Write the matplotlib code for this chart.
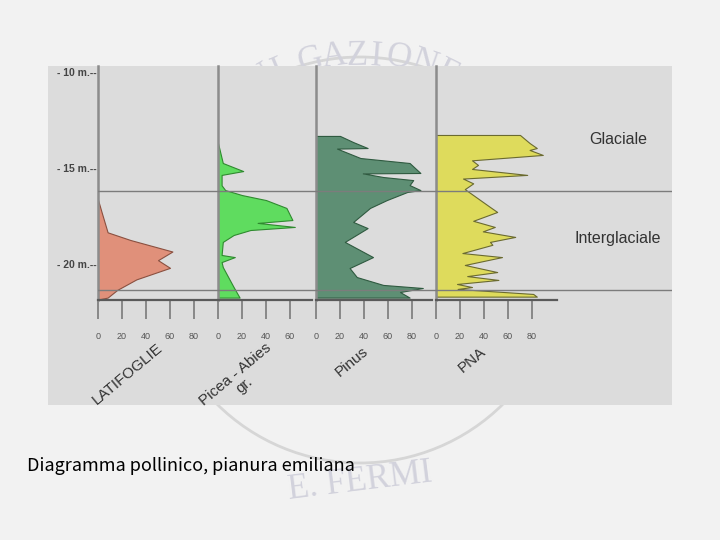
import matplotlib
matplotlib.use("Agg")
import numpy as np
import matplotlib.pyplot as plt
from matplotlib.patches import Rectangle, Circle

plt.rcParams['font.family'] = ['Liberation Sans', 'DejaVu Sans']

# ---- data (depth in m below surface, pollen %) ----
taxa = ["LATIFOGLIE", "Picea - Abies\ngr.", "Pinus", "PNA"]

lat_depth = [16.65, 17.3, 18.35, 18.75, 19.35, 19.8, 20.2, 20.8, 21.35, 21.75, 21.85]
lat_vals = [0, 3, 8, 27, 62, 50, 60, 32, 16, 8, 0]

pic_depth = [13.7, 14.74, 15.16, 15.36, 15.9, 16.15, 16.41, 16.67, 17.08, 17.71, 17.86,
             18.07, 18.23, 18.49, 18.85, 19.53, 19.64, 19.9, 20.16, 21.2, 21.75]
pic_vals = [0, 4, 21, 3, 3, 6, 20, 40, 57, 62, 33, 64, 27, 13, 4, 3, 14, 3, 4, 13, 18]

pin_depth = [13.33, 13.65, 13.96, 13.99, 14.48, 14.74, 15.26, 15.28, 15.47, 15.63, 15.89,
             16.15, 16.25, 16.67, 17.08, 17.29, 17.81, 18.13, 18.85, 19.64, 20.21, 20.68,
             21.09, 21.25, 21.46, 21.75]
pin_vals = [20, 31, 43, 17.5, 37, 78, 87, 39, 56, 81, 78, 87, 76, 59, 45, 41, 31, 43, 24,
            47.5, 28, 34, 56, 89, 70, 78]

pna_depth = [13.28, 13.7, 13.96, 14.06, 14.32, 14.6, 14.84, 15.05, 15.36, 15.55, 15.8, 16.1,
             16.41, 17.03, 17.29, 17.75, 18.07, 18.3, 18.59, 18.85, 19.0, 19.43, 19.64,
             20.05, 20.42, 20.63, 20.83, 21.04, 21.2, 21.3, 21.56, 21.7]
pna_vals = [70, 78, 84, 78, 89, 30, 35, 30, 76, 22.5, 31, 24, 31, 45, 51, 31, 49, 39, 66,
            45, 47, 22, 55, 24, 51, 26, 52, 17.5, 30, 18, 81, 84]

depths = [lat_depth, pic_depth, pin_depth, pna_depth]
values = [lat_vals, pic_vals, pin_vals, pna_vals]
pct_ticks = [[0, 20, 40, 60, 80], [0, 20, 40, 60], [0, 20, 40, 60, 80], [0, 20, 40, 60, 80]]
depth_ticks = [10, 15, 20]

zone_names = ["Glaciale", "Interglaciale"]
zone_bounds = [16.2, 21.35]

fills = ['#e0907a', '#5fdc5f', '#5e8f74', '#dedb5c']
edges = ['#8a5040', '#2f8a2f', '#2f5a40', '#6a6a30']

# ---- layout (pixels) ----
W, H = 720, 540
PX_PER_M = 19.2
PX_PER_PCT = 1.2
TOP, BOT = 66, 300
x_left = [98, 218, 316, 436]
x_right = [218, 316, 436, 557]
spine_end = [218, 312, 432, 557]


def depth_at(py):
    return 10 + (py - 72) / PX_PER_M


def box(x0, y0, x1, y1):
    return [x0 / W, 1 - y1 / H, (x1 - x0) / W, (y1 - y0) / H]


fig = plt.figure(figsize=(7.2, 5.4), dpi=100, facecolor='#f2f2f2')

# background: watermark, grey panel, caption, taxon names
bg = fig.add_axes([0, 0, 1, 1], zorder=-1)
bg.set_xlim(0, W)
bg.set_ylim(H, 0)
bg.axis('off')

wm = '#d2d2dc'
bg.add_patch(Circle((360, 260), 203, fill=False, ec='#d6d6d6', lw=2, zorder=1))
letters = "DIVULGAZIONE"
angles = [-52, -45, -38.5, -30.5, -22.7, -14.6, -7.5, -0.9, 4.6, 11.2, 19.0, 26.2]
for ch, a in zip(letters, angles):
    t = np.radians(a)
    bg.text(360 + 197 * np.sin(t), 262 - 197 * np.cos(t), ch, rotation=-a,
            ha='center', va='baseline', fontsize=25, color=wm,
            family='Liberation Serif', zorder=1)
bg.text(360, 482, "E. FERMI", rotation=7, ha='center', va='center', fontsize=25,
        color=wm, family='Liberation Serif', zorder=1)

bg.add_patch(Rectangle((48, 66), 624, 339, fc='#dcdcdc', ec='none', zorder=3))

bg.text(27, 466, "Diagramma pollinico, pianura emiliana", ha='left', va='center',
        fontsize=13, color='black', family=['Noto Sans CJK JP', 'DejaVu Sans'], zorder=4)

label_pos = [(127, 374), (240, 380), (352, 362), (472, 360)]
for name, (lx, ly) in zip(taxa, label_pos):
    bg.text(lx, ly, name, rotation=40, rotation_mode='anchor', ha='center', va='center',
            multialignment='center', fontsize=11, color='#333333', zorder=4, linespacing=1.0)

# ---- pollen curves ----
for i in range(4):
    ax = fig.add_axes(box(x_left[i], TOP, x_right[i], BOT))
    ax.patch.set_visible(False)
    ax.set_xlim(0, (x_right[i] - x_left[i]) / PX_PER_PCT)
    ax.set_ylim(depth_at(BOT), depth_at(TOP))
    ax.fill_betweenx(depths[i], 0, values[i], facecolor=fills[i], edgecolor=edges[i], lw=0.8)

    ax.spines['top'].set_visible(False)
    ax.spines['right'].set_visible(False)
    ax.spines['left'].set_color('#8c8c8c')
    ax.spines['left'].set_linewidth(1.8)
    ax.spines['bottom'].set_color('#5a5a5a')
    ax.spines['bottom'].set_linewidth(1.6)
    ax.spines['bottom'].set_bounds(0, (spine_end[i] - x_left[i]) / PX_PER_PCT)

    ax.set_xticks(pct_ticks[i])
    ax.tick_params(axis='x', direction='out', length=14, width=1.2, color='#7a7a7a',
                   pad=9, labelsize=6.5, labelcolor='#555555')
    if i == 0:
        ax.set_yticks(depth_ticks, ["- %d m.--" % d for d in depth_ticks])
        ax.tick_params(axis='y', length=0, pad=1, labelsize=7.5, labelcolor='#444444')
        for lab in ax.get_yticklabels():
            lab.set_fontweight('bold')
    else:
        ax.set_yticks([])

# ---- zone boundaries and names ----
zx = fig.add_axes(box(98, TOP, 672, BOT))
zx.set_xlim(98, 672)
zx.set_ylim(depth_at(BOT), depth_at(TOP))
zx.axis('off')
for b in zone_bounds:
    zx.axhline(b, color='#7c7c7c', lw=1.0)
zx.text(618, depth_at(140), zone_names[0], ha='center', va='center', fontsize=11.5, color='#333333')
zx.text(618, depth_at(238), zone_names[1], ha='center', va='center', fontsize=11.5, color='#333333')

fig.savefig("out.png", dpi=100, facecolor=fig.get_facecolor())
